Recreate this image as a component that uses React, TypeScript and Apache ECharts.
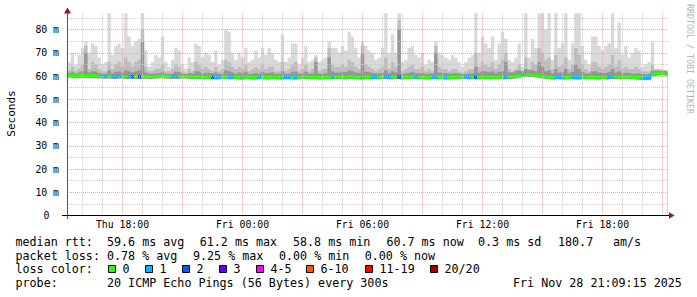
import { useEffect, useRef } from 'react';
import * as echarts from 'echarts';

// ---- data (10-minute buckets, hours since Thu 00:00) ----
const startHour = 15.25;
const stepHours = 1 / 6;

const rttMax = [
  68.5, 66, 70, 65, 69, 72, 75, 70, 74, 73,
  68, 65, 66, 87, 69, 73, 74, 72, 87, 77,
  73, 75, 76, 87, 71, 64, 66, 69, 68, 77,
  66, 64, 67, 72, 71, 65, 63, 68, 66, 74,
  73, 68, 70, 69, 66, 71, 65, 67, 80, 79,
  70, 67, 70, 68, 72, 66, 67, 71, 68, 72,
  69, 72, 70, 67, 66, 78, 66, 68, 74, 74,
  65, 68, 73, 66, 67, 69, 66, 67, 68, 75,
  72, 72, 70, 73, 71, 79, 77, 72, 68, 75,
  73, 71, 70, 67, 68, 72, 87, 70, 78, 70,
  87, 66, 67, 72, 73, 69, 68, 70, 65, 67,
  66, 75, 70, 69, 68, 67, 69, 68, 66, 64,
  66, 68, 69, 87, 70, 77, 74, 72, 77, 67,
  74, 79, 76, 67, 66, 68, 74, 64, 87, 68,
  76, 72, 87, 87, 80, 87, 67, 87, 72, 74,
  87, 67, 74, 87, 87, 73, 67, 65, 77, 77,
  73, 71, 73, 74, 87, 72, 83, 69, 73, 68,
  70, 72, 71, 64, 65, 66, 75, 63, 63, 62,
  62.5,
];

const rttP90 = [
  63, 62.5, 64, 62, 63, 65, 73, 63, 66, 65,
  63, 62, 62, 66, 63, 65, 66, 64, 68, 66,
  64, 66, 67, 80, 64, 62, 62, 63, 63, 65,
  62, 62, 63, 65, 64, 62, 61.5, 63, 62, 66,
  65, 63, 64, 63, 62, 64, 62, 63, 67, 66,
  64, 63, 64, 63, 65, 62, 63, 64, 63, 65,
  63, 64, 64, 62, 62, 66, 62, 63, 65, 66,
  62, 63, 65, 62, 63, 68, 62, 63, 63, 72,
  65, 64, 64, 65, 64, 67, 66, 64, 63, 73,
  65, 64, 63, 62, 63, 64, 68, 63, 66, 64,
  84, 62, 63, 64, 65, 63, 63, 64, 62, 63,
  62, 73, 64, 63, 63, 62, 63, 63, 62, 61.5,
  62, 63, 63, 70, 64, 66, 65, 64, 66, 63,
  65, 67, 70, 63, 62, 63, 65, 62, 68, 63,
  66, 65, 72, 70, 67, 68, 63, 69, 64, 65,
  68, 63, 65, 72, 69, 65, 63, 62, 66, 66,
  64, 63, 64, 65, 69, 64, 67, 63, 64, 63,
  63, 64, 63, 62, 62, 62, 65, 62.8, 62.8, 62.6,
  62.5,
];

const rttP75 = [
  61.5, 61.2, 61.8, 61.0, 61.5, 62.0, 70, 61.5, 62.0, 61.8,
  61.2, 61.0, 61.0, 62.5, 61.2, 61.8, 62.0, 61.5, 62.5, 62.0,
  61.5, 62.0, 62.5, 75, 61.5, 61.0, 61.0, 61.3, 61.2, 61.8,
  61.0, 60.9, 61.2, 61.8, 61.5, 61.0, 60.8, 61.2, 61.0, 62.0,
  61.8, 61.2, 61.5, 61.2, 61.0, 61.5, 60.9, 61.2, 62.5, 62.0,
  61.5, 61.0, 61.5, 61.2, 61.8, 60.9, 61.2, 61.5, 61.0, 61.8,
  61.2, 61.5, 61.5, 61.0, 60.9, 62.0, 61.0, 61.2, 61.8, 62.0,
  61.0, 61.2, 61.8, 61.0, 61.2, 66, 61.0, 61.2, 61.2, 68,
  62.0, 61.5, 61.5, 61.8, 61.5, 62.5, 62.0, 61.5, 61.2, 70,
  61.8, 61.5, 61.2, 61.0, 61.2, 61.5, 62.5, 61.2, 62.0, 61.5,
  80, 61.0, 61.2, 61.5, 61.8, 61.2, 61.2, 61.5, 61.0, 61.2,
  61.0, 70, 61.5, 61.2, 61.2, 61.0, 61.2, 61.2, 61.0, 60.9,
  61.0, 61.2, 61.2, 64, 61.5, 62.0, 61.8, 61.5, 62.0, 61.2,
  61.8, 62.0, 66, 61.5, 61.5, 62.0, 62.5, 62.0, 63.0, 62.5,
  62.5, 62.0, 66, 64, 62.0, 62.5, 61.2, 63, 61.5, 61.8,
  63, 61.2, 61.8, 65, 63, 61.8, 61.2, 61.0, 62.0, 62.0,
  61.5, 61.2, 61.5, 61.8, 63, 61.5, 62.0, 61.2, 61.5, 61.2,
  61.0, 61.2, 61.0, 60.8, 60.8, 60.8, 62.3, 62.2, 62.3, 62.2,
  62.0,
];

const rttMedian = [
  60.2, 60.3, 60.1, 60.0, 60.2, 60.1, 60.0, 60.2, 60.1, 60.0,
  59.9, 59.8, 59.9, 59.8, 59.7, 59.8, 59.9, 59.8, 59.7, 59.8,
  59.7, 59.8, 59.7, 59.9, 59.8, 59.7, 59.8, 59.9, 60.0, 59.9,
  59.8, 59.7, 59.8, 59.7, 59.8, 59.9, 59.8, 59.7, 59.6, 59.7,
  59.6, 59.5, 59.6, 59.5, 59.6, 59.5, 59.6, 59.7, 59.6, 59.5,
  59.6, 59.5, 59.4, 59.5, 59.6, 59.5, 59.4, 59.5, 59.6, 59.5,
  59.4, 59.5, 59.6, 59.5, 59.4, 59.5, 59.6, 59.5, 59.4, 59.5,
  59.6, 59.7, 59.6, 59.5, 59.6, 59.5, 59.4, 59.5, 59.6, 59.5,
  59.6, 59.7, 59.6, 59.5, 59.6, 59.7, 59.6, 59.5, 59.4, 59.5,
  59.6, 59.5, 59.6, 59.5, 59.6, 59.7, 59.6, 59.5, 59.6, 59.7,
  59.6, 59.5, 59.6, 59.7, 59.6, 59.5, 59.6, 59.5, 59.4, 59.5,
  59.6, 59.5, 59.6, 59.5, 59.4, 59.5, 59.6, 59.5, 59.6, 59.7,
  59.6, 59.5, 59.6, 59.5, 59.6, 59.5, 59.6, 59.5, 59.6, 59.5,
  59.6, 59.5, 59.6, 59.7, 59.8, 60.0, 60.2, 60.5, 60.6, 60.7,
  60.5, 60.3, 60.0, 59.8, 59.6, 59.5, 59.4, 59.6, 59.5, 59.4,
  59.5, 59.6, 59.5, 59.4, 59.5, 59.6, 59.5, 59.6, 59.5, 59.4,
  59.5, 59.6, 59.5, 59.6, 59.7, 59.6, 59.5, 59.6, 59.7, 59.6,
  59.5, 59.4, 59.3, 59.2, 59.3, 59.2, 60.8, 61.0, 61.2, 61.0,
  60.7,
];

const rttMin = [
  59.2, 59.3, 59.1, 59.0, 59.2, 59.1, 59.0, 59.1, 59.0, 58.9,
  58.9, 58.8, 58.9, 58.8, 58.7, 58.8, 58.9, 58.8, 58.7, 58.8,
  58.7, 58.8, 58.6, 58.8, 58.8, 58.7, 58.8, 58.9, 59.0, 58.9,
  58.8, 58.7, 58.8, 58.7, 58.8, 58.9, 58.8, 58.7, 58.6, 58.7,
  58.6, 58.5, 58.6, 58.5, 58.5, 58.5, 58.6, 58.7, 58.6, 58.5,
  58.6, 58.5, 58.4, 58.5, 58.6, 58.5, 58.4, 58.5, 58.6, 58.5,
  58.4, 58.5, 58.6, 58.5, 58.4, 58.5, 58.6, 58.5, 58.4, 58.5,
  58.6, 58.7, 58.6, 58.5, 58.6, 58.5, 58.4, 58.5, 58.6, 58.5,
  58.6, 58.7, 58.6, 58.5, 58.6, 58.7, 58.6, 58.5, 58.4, 58.5,
  58.6, 58.5, 58.6, 58.5, 58.6, 58.7, 58.6, 58.5, 58.6, 58.7,
  58.5, 58.5, 58.6, 58.7, 58.6, 58.5, 58.6, 58.5, 58.4, 58.5,
  58.6, 58.5, 58.6, 58.5, 58.4, 58.5, 58.6, 58.5, 58.6, 58.7,
  58.6, 58.5, 58.6, 58.5, 58.6, 58.5, 58.6, 58.5, 58.6, 58.5,
  58.6, 58.5, 58.6, 58.7, 58.8, 59.0, 59.2, 59.5, 59.6, 59.7,
  59.5, 59.3, 59.0, 58.8, 58.6, 58.5, 58.4, 58.6, 58.5, 58.4,
  58.5, 58.6, 58.5, 58.4, 58.5, 58.6, 58.5, 58.6, 58.5, 58.4,
  58.5, 58.6, 58.5, 58.6, 58.7, 58.6, 58.5, 58.6, 58.7, 58.6,
  58.5, 58.4, 58.3, 58.2, 58.3, 58.2, 60.0, 60.2, 60.4, 60.2,
  60.0,
];

const lossCount = [
  0, 0, 0, 0, 0, 0, 0, 0, 0, 0,
  0, 1, 1, 0, 1, 1, 1, 0, 0, 1,
  2, 0, 2, 0, 0, 0, 0, 0, 0, 0,
  0, 0, 1, 1, 0, 0, 0, 0, 0, 0,
  0, 0, 0, 0, 2, 1, 1, 0, 0, 1,
  1, 0, 0, 1, 0, 0, 0, 0, 1, 0,
  0, 0, 0, 0, 0, 1, 1, 1, 0, 1,
  0, 0, 0, 0, 0, 0, 0, 0, 0, 0,
  1, 0, 0, 0, 0, 0, 0, 0, 0, 1,
  0, 0, 1, 1, 0, 0, 1, 1, 0, 0,
  2, 0, 0, 0, 0, 1, 0, 0, 0, 0,
  1, 1, 0, 0, 1, 0, 0, 0, 0, 0,
  1, 1, 0, 2, 0, 0, 0, 0, 0, 0,
  0, 0, 1, 0, 0, 0, 0, 1, 0, 0,
  0, 0, 0, 0, 0, 0, 0, 1, 1, 1,
  0, 0, 1, 1, 1, 0, 0, 0, 0, 0,
  0, 0, 0, 1, 1, 0, 0, 0, 0, 0,
  0, 0, 0, 1, 1, 1, 0, 0, 0, 0,
  0,
];

const xTickValues = [18, 24, 30, 36, 42];
const xTickLabels = ['Thu 18:00', 'Fri 00:00', 'Fri 06:00', 'Fri 12:00', 'Fri 18:00'];
const yTickValues = [10, 20, 30, 40, 50, 60, 70, 80];
const yTickLabels = ['10 m', '20 m', '30 m', '40 m', '50 m', '60 m', '70 m', '80 m'];
const yZeroLabel = '0';

const lossLabels = ['0', '1', '2', '3', '4-5', '6-10', '11-19', '20/20'];
const lossUpper = [0, 1, 2, 3, 5, 10, 19, 20];
const lossColors = ['#26ff00', '#00b8ff', '#0059ff', '#5e00ff', '#ff00ff', '#ff5500', '#ff0000', '#a10000'];

const rowTitles = ['median rtt:', 'packet loss:', 'loss color:', 'probe:'];
const rttStats = ['59.6 ms avg', '61.2 ms max', '58.8 ms min', '60.7 ms now', '0.3 ms sd', '180.7', 'am/s'];
const lossStats = ['0.78 % avg', '9.25 % max', '0.00 % min', '0.00 % now'];
const probeText = '20 ICMP Echo Pings (56 Bytes) every 300s';
const stampText = 'Fri Nov 28 21:09:15 2025';

// ---- layout ----
const MONO = 'DejaVu Sans Mono';
const rowY = [241.5, 255.5, 269.3, 283.3];
const rttStatX = [107, 199.7, 293, 386.4, 478, 558, 613];
const lossStatX = [107, 193, 279, 364.7];
const boxX = [108.5, 145.5, 182.5, 219.5, 256.5, 306.5, 365.5, 430.5];
const X_MIN = 15.225; // half-pixel offset so hourly grid lines are crisp
const X_MAX = 45.325;
const AXIS_FONT = 9.8;

function lossClass(n: number) {
  for (let k = 0; k < lossUpper.length; k++) if (n <= lossUpper[k]) return k;
  return lossUpper.length - 1;
}

function buildOption() {
  const times = rttMedian.map((_, i) => startHour + i * stepHours);
  const pts = (vals: number[]) => times.map((t, i) => [t, vals[i]]);

  const red = '#eba3a3';
  const gray = '#c8c8c8';
  const gridLines: any[] = [];
  for (let v = 5; v <= 85; v += 5) {
    gridLines.push({ yAxis: v, lineStyle: { color: v % 10 === 0 ? red : gray, type: [1, 1], width: 1 } });
  }
  for (let h = 16; h <= 45; h++) {
    gridLines.push({ xAxis: h, lineStyle: { color: h % 3 === 0 ? red : gray, type: [1, 1], width: 1 } });
  }

  // loss-colour pieces for the median line (value i spans (t[i-1], t[i]])
  const pieces: any[] = [];
  let runStart = 0;
  for (let i = 1; i <= lossCount.length; i++) {
    if (i === lossCount.length || lossClass(lossCount[i]) !== lossClass(lossCount[runStart])) {
      const lo = runStart === 0 ? times[0] - stepHours : times[runStart - 1];
      pieces.push({ gt: lo - 1e-6, lte: times[i - 1] + 1e-6, color: lossColors[lossClass(lossCount[runStart])] });
      runStart = i;
    }
  }

  const area = (name: string, vals: number[], color: string, extra: any = {}) => ({
    type: 'line',
    name,
    data: pts(vals),
    step: 'start',
    symbol: 'none',
    silent: true,
    lineStyle: { width: 0, opacity: 0 },
    areaStyle: { color, opacity: 1 },
    z: 2,
    ...extra,
  });

  const graphic: any[] = [];
  const txt = (text: string, x: number, y: number, size = 11.7, extra: any = {}) => ({
    type: 'text',
    x,
    y,
    silent: true,
    style: { text, fontFamily: MONO, fontSize: size, fill: '#000', verticalAlign: 'middle', ...extra },
  });

  rowTitles.forEach((t, i) => graphic.push(txt(t, 15.5, rowY[i])));
  rttStats.forEach((t, i) => graphic.push(txt(t, rttStatX[i], rowY[0])));
  lossStats.forEach((t, i) => graphic.push(txt(t, lossStatX[i], rowY[1])));
  lossLabels.forEach((t, i) => {
    graphic.push({
      type: 'rect',
      silent: true,
      shape: { x: boxX[i], y: 265.5, width: 7, height: 7 },
      style: { fill: lossColors[i], stroke: '#000', lineWidth: 1 },
    });
    graphic.push(txt(t, boxX[i] + 14, rowY[2]));
  });
  graphic.push(txt(probeText, 107, rowY[3]));
  graphic.push(txt(stampText, 513, rowY[3]));

  graphic.push(txt(yZeroLabel, 49.5, 215.5, AXIS_FONT, { align: 'right' }));

  graphic.push({
    type: 'text', x: 11, y: 113.5, rotation: Math.PI / 2, silent: true,
    style: { text: 'Seconds', fontFamily: MONO, fontSize: 11, fill: '#000', align: 'center', verticalAlign: 'middle' },
  });
  graphic.push({
    type: 'text', x: 690, y: 59, rotation: -Math.PI / 2, silent: true,
    style: { text: 'RRDTOOL / TOBI OETIKER', fontFamily: MONO, fontSize: 8.3, fill: '#b4b4b4', align: 'center', verticalAlign: 'middle' },
  });

  // axis extensions and arrows
  graphic.push({ type: 'line', silent: true, shape: { x1: 62, y1: 215.5, x2: 67, y2: 215.5 }, style: { stroke: '#000', lineWidth: 1 }, z: 20 });
  graphic.push({ type: 'line', silent: true, shape: { x1: 67.5, y1: 215.5, x2: 67.5, y2: 219 }, style: { stroke: '#555', lineWidth: 1 }, z: 20 });
  graphic.push({
    type: 'polygon', silent: true, z: 20,
    shape: { points: [[67.5, 7.5], [64, 13.5], [71, 13.5]] },
    style: { fill: '#8e1b1b' },
  });
  graphic.push({
    type: 'polygon', silent: true, z: 20,
    shape: { points: [[674.5, 215.5], [669, 212.3], [669, 218.7]] },
    style: { fill: '#8e1b1b' },
  });

  return {
    animation: false,
    backgroundColor: '#ffffff',
    grid: { left: 67, right: 28, top: 13, bottom: 81.5, containLabel: false },
    xAxis: {
      type: 'value',
      min: X_MIN,
      max: X_MAX,
      z: 10,
      axisLine: { show: true, onZero: false, lineStyle: { color: '#000', width: 1 } },
      axisTick: { show: false },
      splitLine: { show: false },
      axisLabel: {
        customValues: xTickValues,
        formatter: (v: number) => {
          const k = xTickValues.indexOf(v);
          return k >= 0 ? xTickLabels[k] : '';
        },
        fontFamily: MONO,
        fontSize: 9.8,
        color: '#000',
        margin: 4,
      },
    },
    yAxis: {
      type: 'value',
      min: 0,
      max: 87.1,
      z: 10,
      axisLine: { show: true, lineStyle: { color: '#555', width: 1 } },
      axisTick: { show: false },
      splitLine: { show: false },
      axisLabel: {
        customValues: yTickValues,
        formatter: (v: number) => {
          const k = yTickValues.indexOf(v);
          return k >= 0 ? yTickLabels[k] : '';
        },
        fontFamily: MONO,
        fontSize: AXIS_FONT,
        color: '#000000',
        margin: 8,
        rotate: 0.01,
      },
    },
    visualMap: {
      type: 'piecewise',
      show: false,
      dimension: 0,
      seriesIndex: 4,
      pieces,
      outOfRange: { color: lossColors[0] },
    },
    series: [
      area('max', rttMax, '#d9d9d9', {
        markLine: {
          silent: true,
          symbol: ['none', 'none'],
          label: { show: false },
          animation: false,
          data: gridLines,
        },
      }),
      area('p90', rttP90, '#bdbdbd'),
      area('p75', rttP75, '#959595'),
      area('min', rttMin, '#ffffff'),
      {
        type: 'line',
        name: 'median',
        data: pts(rttMedian),
        step: 'start',
        symbol: 'none',
        silent: true,
        lineStyle: { width: 3 },
        z: 3,
      },
    ],
    graphic,
  };
}

export default function App() {
  const ref = useRef<HTMLDivElement>(null);
  useEffect(() => {
    if (!ref.current) return;
    const chart = echarts.init(ref.current, undefined, { renderer: 'svg' });
    chart.setOption(buildOption() as any);
    return () => chart.dispose();
  }, []);
  return (
    <div
      ref={ref}
      style={{ position: 'fixed', left: 0, top: 0, width: 697, height: 297, background: '#fff' }}
    />
  );
}
